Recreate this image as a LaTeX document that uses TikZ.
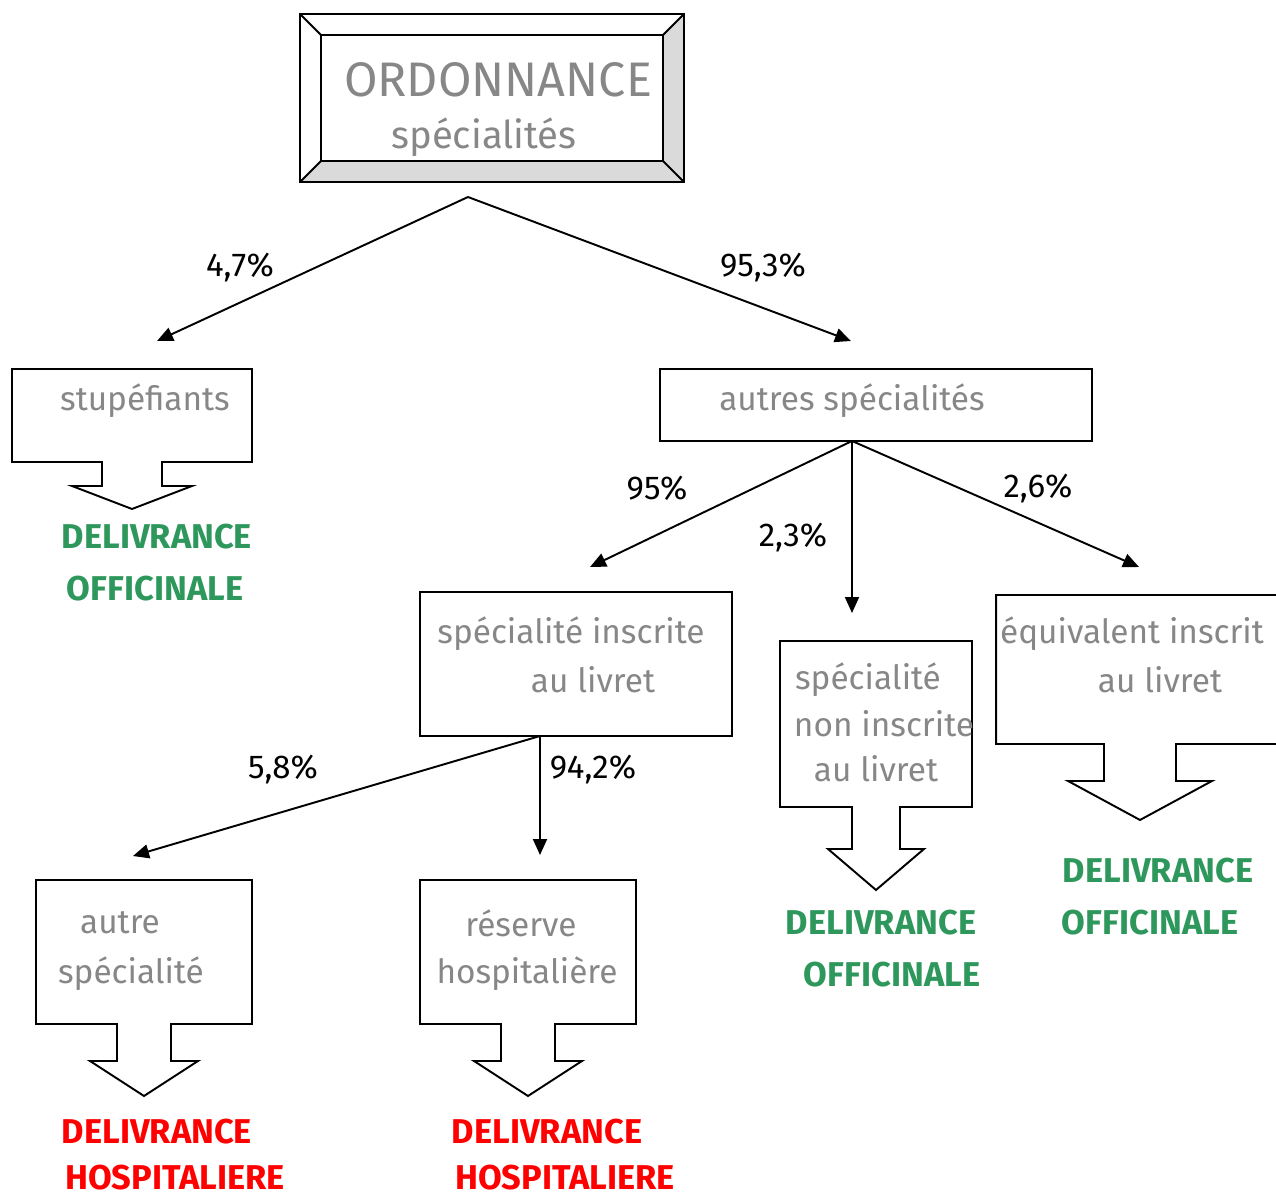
\documentclass[tikz,border=0pt]{standalone}
\usepackage{fontspec}
\setmainfont{Fira Sans}
\usetikzlibrary{arrows.meta,calc}

\definecolor{gristexte}{RGB}{135,135,135}
\definecolor{vertdeliv}{RGB}{46,152,92}
\definecolor{rougedeliv}{RGB}{255,0,0}
\definecolor{biseau}{RGB}{218,218,218}

\tikzset{
  boite/.style={draw, line width=1.1pt, inner sep=0pt, outer sep=0pt},
  gris/.style={text=gristexte, font=\fontsize{19}{22}\selectfont},
  pct/.style={font=\fontsize{18.8}{22}\selectfont},
  officine/.style={text=vertdeliv, font=\bfseries\fontsize{19.6}{23}\selectfont, inner sep=1pt},
  hopital/.style={text=rougedeliv, font=\bfseries\fontsize{19.6}{23}\selectfont, inner sep=0pt},
  fleche/.style={line width=1.1pt, -{Triangle[length=3.2mm,width=2.8mm]}},
}

% boite + grosse fleche vers le bas
\newcommand{\sortie}[5]{%
  \draw[line width=1.1pt, fill=white] (#1.south west) -- (#1.north west) -- (#1.north east) -- (#1.south east)
    -- ($(#1.south)+(#2,0)$) -- ++(0,#3) -- ++({#4-#2},0) -- ($(#1.south)+(0,{#3+#5})$)
    -- ($(#1.south)+(-#4,#3)$) -- ++({#4-#2},0) -- ($(#1.south)+(-#2,0)$) -- cycle;
}

\begin{document}
\begin{tikzpicture}[x=0.02cm, y=-0.02cm]
  \useasboundingbox (0,0) rectangle (1276,1196);

  % ordonnance
  \node[inner sep=0pt, outer sep=0pt, minimum width=7.68cm, minimum height=3.36cm] (ord) at (492,98) {};
  \node[inner sep=0pt, outer sep=0pt, minimum width=6.84cm, minimum height=2.52cm] (ordin) at (492,98) {};
  \fill[biseau] (ord.north east) -- (ord.south east) -- (ordin.south east) -- (ordin.north east) -- cycle;
  \fill[biseau] (ord.south west) -- (ord.south east) -- (ordin.south east) -- (ordin.south west) -- cycle;
  \draw[line width=1.1pt] (ord.north west) rectangle (ord.south east);
  \draw[line width=1.6pt] (ordin.north west) rectangle (ordin.south east);
  \draw[line width=1.1pt] (ord.north west) -- (ordin.north west);
  \draw[line width=1.1pt] (ord.north east) -- (ordin.north east);
  \draw[line width=1.1pt] (ord.south west) -- (ordin.south west);
  \draw[line width=1.1pt] (ord.south east) -- (ordin.south east);
  \node[text=gristexte, font=\fontsize{27.6}{30}\selectfont] (ordtitre) at (498,80) {ORDONNANCE};
  \node[text=gristexte, font=\fontsize{21.8}{25}\selectfont] (ordsous) at (484,137) {spécialités};

  % premier niveau
  \coordinate (ordpied) at (468,197);
  \coordinate (versstup) at (157,341);
  \coordinate (versautres) at (851,341);
  \draw[fleche] (ordpied) -- (versstup);
  \draw[fleche] (ordpied) -- (versautres);
  \node[pct] (p47) at (240,268) {4,7\%};
  \node[pct] (p953) at (763,268) {95,3\%};

  % stupefiants
  \node[boite, minimum width=4.8cm, minimum height=1.86cm] (stup) at (132,415.5) {};
  \sortie{stup}{30}{24}{60}{23}
  \node[gris] (stuptxt) at (145,401) {stupéfiants};
  \node[officine] (stupdel) at (157,537) {DELIVRANCE};
  \node[officine] (stupoff) at (155,589) {OFFICINALE};

  % autres specialites
  \node[boite, minimum width=8.64cm, minimum height=1.44cm] (autres) at (876,405) {};
  \node[gris] (autrestxt) at (852,401) {autres spécialités};
  \coordinate (autrespied) at (852,441);
  \coordinate (versinscr) at (590,567);
  \coordinate (versnoninscr) at (852,613);
  \coordinate (versequiv) at (1139,567);
  \draw[fleche] (autrespied) -- (versinscr);
  \draw[fleche] (autrespied) -- (versnoninscr);
  \draw[fleche] (autrespied) -- (versequiv);
  \node[pct] (p95) at (657,488) {95\%};
  \node[pct] (p23) at (793,537) {2,3\%};
  \node[pct] (p26) at (1038,488) {2,6\%};

  % specialite inscrite
  \node[boite, minimum width=6.24cm, minimum height=2.88cm] (inscr) at (576,664) {};
  \node[gris] (inscrtxt) at (571,634) {spécialité inscrite};
  \node[gris] (inscrtxtb) at (593,680) {au livret};
  \coordinate (inscrpied) at (540,736);
  \coordinate (versautre) at (133,856);
  \coordinate (versreserve) at (540,855);
  \draw[fleche] (inscrpied) -- (versautre);
  \draw[fleche] (inscrpied) -- (versreserve);
  \node[pct] (p58) at (283,769) {5,8\%};
  \node[pct] (p942) at (593,769) {94,2\%};

  % non inscrite
  \node[boite, minimum width=3.84cm, minimum height=3.32cm] (noninscr) at (876,724) {};
  \sortie{noninscr}{24}{42}{48}{41}
  \node[gris] (noninscrtxt) at (868,680) {spécialité};
  \node[gris] (noninscrtxtb) at (884,724) {non inscrite};
  \node[gris] (noninscrtxtc) at (876,769) {au livret};
  \node[officine] (noninscrdel) at (881,923) {DELIVRANCE};
  \node[officine] (noninscroff) at (892,975) {OFFICINALE};

  % equivalent
  \node[boite, minimum width=5.76cm, minimum height=2.98cm] (equiv) at (1140,669.5) {};
  \sortie{equiv}{36}{37}{72}{39}
  \node[gris] (equivtxt) at (1132,634) {équivalent inscrit};
  \node[gris] (equivtxtb) at (1160,680) {au livret};
  \node[officine] (equivdel) at (1158,871) {DELIVRANCE};
  \node[officine] (equivoff) at (1150,923) {OFFICINALE};

  % autre specialite
  \node[boite, minimum width=4.32cm, minimum height=2.88cm] (autre) at (144,952) {};
  \sortie{autre}{27}{37}{54}{35}
  \node[gris] (autretxt) at (120,923) {autre};
  \node[gris] (autretxtb) at (131,974) {spécialité};
  \node[hopital] (autredel) at (157,1132) {DELIVRANCE};
  \node[hopital] (autrehosp) at (175,1178) {HOSPITALIERE};

  % reserve hospitaliere
  \node[boite, minimum width=4.32cm, minimum height=2.88cm] (reserve) at (528,952) {};
  \sortie{reserve}{27}{37}{54}{35}
  \node[gris] (reservetxt) at (521,923) {réserve};
  \node[gris] (reservetxtb) at (527,974) {hospitalière};
  \node[hopital] (reservedel) at (547,1132) {DELIVRANCE};
  \node[hopital] (reservehosp) at (565,1178) {HOSPITALIERE};
\end{tikzpicture}
\end{document}
